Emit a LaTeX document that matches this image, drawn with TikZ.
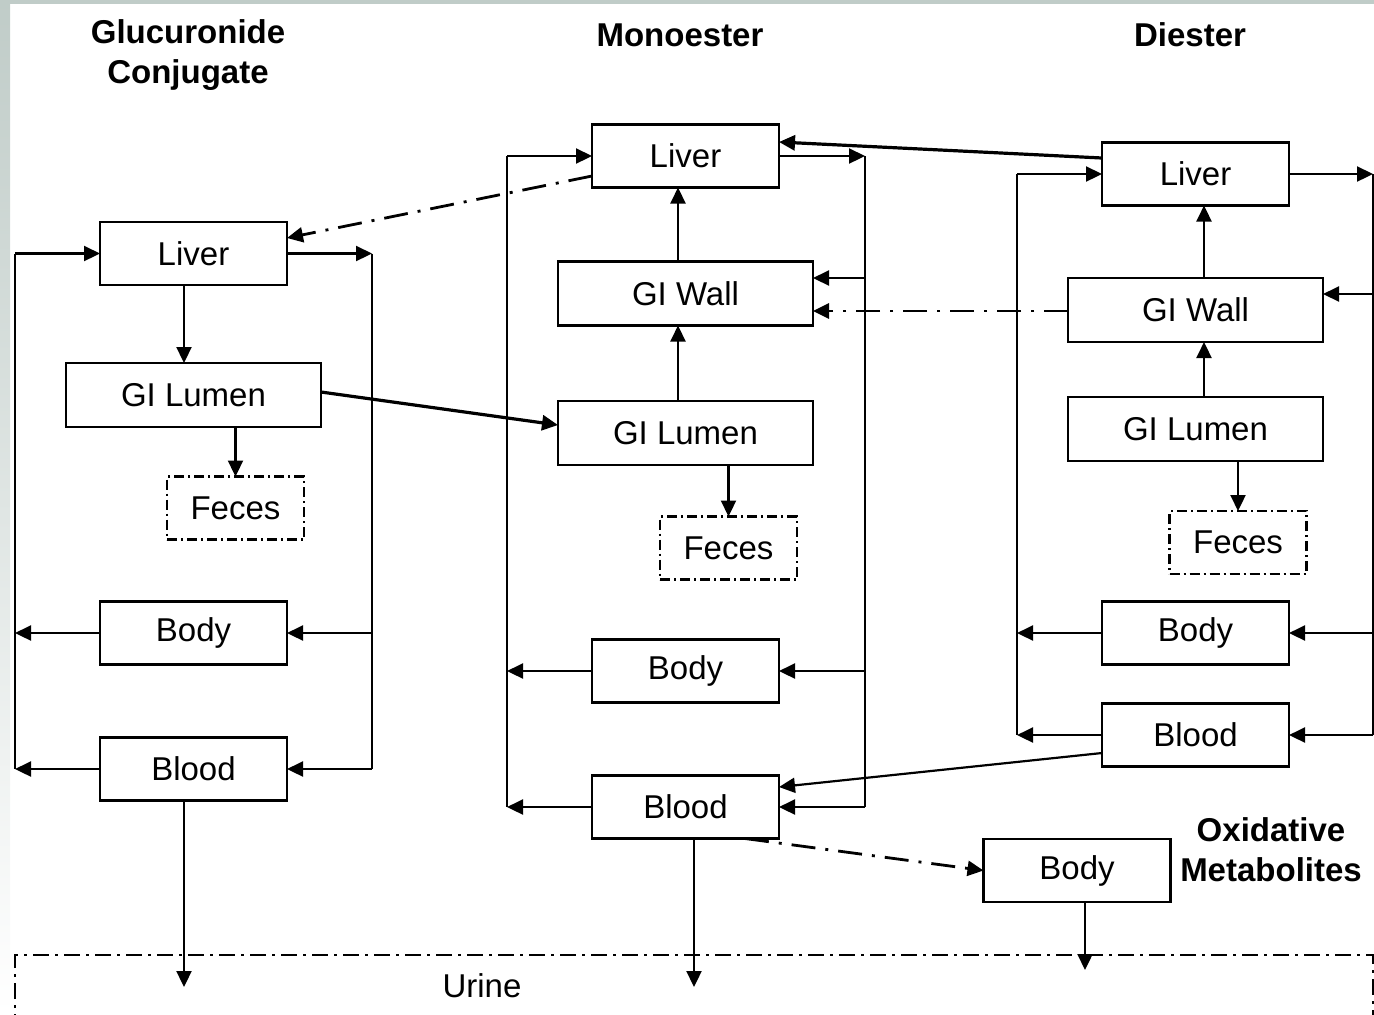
\documentclass[tikz,border=0pt]{standalone}
\usepackage{fontspec}
\setmainfont{Liberation Sans}
\usetikzlibrary{arrows.meta}
\definecolor{framegray}{RGB}{192,204,200}
\begin{document}
\begin{tikzpicture}[x=0.5pt,y=-0.5pt,
  boxfont/.style={font=\fontsize{16.5}{20}\selectfont},
  titlefont/.style={font=\fontsize{16.5}{20}\selectfont\bfseries, align=center},
  sbox/.style={draw, line width=1.1pt, boxfont, inner sep=0pt, outer sep=0pt, minimum width=93.5pt, minimum height=31.5pt},
  wbox/.style={sbox, minimum width=127.5pt, minimum height=32pt},
  fbox/.style={sbox, minimum width=68.5pt, dash pattern=on 5pt off 2pt on 1pt off 2pt},
  line/.style={line width=1.1pt},
  arr/.style={line width=1.1pt, -{Triangle[length=8pt,width=7.5pt]}},
  thickarr/.style={line width=1.6pt, -{Triangle[length=8pt,width=7.5pt]}},
  dd/.style={line width=1.4pt, dash pattern=on 12pt off 5pt on 1.5pt off 5pt},
  udd/.style={line width=0.8pt, dash pattern=on 8pt off 3pt on 1.5pt off 3pt}]
\useasboundingbox (0,0) rectangle (1374,1014);
% frame of the screenshot
\fill[framegray] (0,0) rectangle (1374,4);
\shade[top color=framegray, bottom color=white] (0,0) rectangle (10,1014);

% titles
\node[titlefont] (tG) at (188,55) {Glucuronide\\Conjugate};
\node[titlefont] (tM) at (680,35) {Monoester};
\node[titlefont] (tD) at (1190,35) {Diester};
\node[titlefont] (tO) at (1271,850) {Oxidative\\Metabolites};

% Glucuronide column
\node[sbox] (gL) at (193.5,253.5) {Liver};
\node[wbox] (gGL) at (193.5,395) {GI Lumen};
\node[fbox] (gF) at (235.5,508) {Feces};
\node[sbox] (gBo) at (193.5,633) {Body};
\node[sbox] (gB) at (193.5,769) {Blood};

% Monoester column
\node[sbox] (mL) at (685.5,156) {Liver};
\node[wbox] (mW) at (685.5,293.5) {GI Wall};
\node[wbox] (mGL) at (685.5,433) {GI Lumen};
\node[fbox] (mF) at (728.5,548) {Feces};
\node[sbox] (mBo) at (685.5,671) {Body};
\node[sbox] (mB) at (685.5,807) {Blood};

% Diester column
\node[sbox] (dL) at (1195.5,174) {Liver};
\node[wbox] (dW) at (1195.5,310) {GI Wall};
\node[wbox] (dGL) at (1195.5,429) {GI Lumen};
\node[fbox] (dF) at (1238,542.5) {Feces};
\node[sbox] (dBo) at (1195.5,633) {Body};
\node[sbox] (dB) at (1195.5,735) {Blood};

% Oxidative metabolites
\node[sbox] (oB) at (1077,870.5) {Body};

% Urine
\draw[udd] (15,1030) -- (15,955) -- (1373,955) -- (1373,1030);
\node[boxfont] (uT) at (482,986) {Urine};

% helper coordinates
\coordinate (gLx) at (15,0);
\coordinate (gRx) at (372,0);
\coordinate (gU) at (184,987);
\coordinate (mLx) at (507,0);
\coordinate (mRx) at (865,0);
\coordinate (mAx) at (678,0);
\coordinate (mU) at (694,987);
\coordinate (dLx) at (1017,0);
\coordinate (dRx) at (1373,0);
\coordinate (dAx) at (1204,0);
\coordinate (oU) at (1085,970);
\coordinate (y142) at (0,142);
\coordinate (y158) at (0,158);
\coordinate (y176) at (0,176);
\coordinate (y238) at (0,238);
\coordinate (y278) at (0,278);
\coordinate (y294) at (0,294);
\coordinate (y311) at (0,311);
\coordinate (y392) at (0,392);
\coordinate (y425) at (0,425);
\coordinate (y753) at (0,753);
\coordinate (y787) at (0,787);
\coordinate (mBx) at (745,0);

% Glucuronide connectors
\draw[line] (gL.west -| gLx) -- (gB.west -| gLx);
\draw[line] (gL.east -| gRx) -- (gB.east -| gRx);
\draw[arr] (gL.west -| gLx) -- (gL.west);
\draw[arr] (gL.east) -- (gL.east -| gRx);
\draw[arr] (gBo.west) -- (gBo.west -| gLx);
\draw[arr] (gBo.east -| gRx) -- (gBo.east);
\draw[arr] (gB.west) -- (gB.west -| gLx);
\draw[arr] (gB.east -| gRx) -- (gB.east);
\draw[arr] (gL.south -| gU) -- (gGL.north -| gU);
\draw[arr] (gGL.south -| gF.north) -- (gF.north);
\draw[arr] (gB.south -| gU) -- (gU);

% Monoester connectors
\draw[line] (mL.west -| mLx) -- (mB.west -| mLx);
\draw[line] (mL.east -| mRx) -- (mB.east -| mRx);
\draw[arr] (mL.west -| mLx) -- (mL.west);
\draw[arr] (mL.east) -- (mL.east -| mRx);
\draw[arr] (y278 -| mRx) -- (y278 -| mW.east);
\draw[arr] (mW.north -| mAx) -- (mL.south -| mAx);
\draw[arr] (mGL.north -| mAx) -- (mW.south -| mAx);
\draw[arr] (mGL.south -| mF.north) -- (mF.north);
\draw[arr] (mBo.west) -- (mBo.west -| mLx);
\draw[arr] (mBo.east -| mRx) -- (mBo.east);
\draw[arr] (mB.west) -- (mB.west -| mLx);
\draw[arr] (mB.east -| mRx) -- (mB.east);
\draw[arr] (mB.south -| mU) -- (mU);
\draw[arr, dd] (mB.south -| mBx) -- (oB.west);

% Diester connectors
\draw[line] (dL.west -| dLx) -- (dB.west -| dLx);
\draw[line] (dL.east -| dRx) -- (dB.east -| dRx);
\draw[arr] (dL.west -| dLx) -- (dL.west);
\draw[arr] (dL.east) -- (dL.east -| dRx);
\draw[arr] (y294 -| dRx) -- (y294 -| dW.east);
\draw[arr] (dW.north -| dAx) -- (dL.south -| dAx);
\draw[arr] (dGL.north -| dAx) -- (dW.south -| dAx);
\draw[arr] (dGL.south -| dF.north) -- (dF.north);
\draw[arr] (dBo.west) -- (dBo.west -| dLx);
\draw[arr] (dBo.east -| dRx) -- (dBo.east);
\draw[arr] (dB.west) -- (dB.west -| dLx);
\draw[arr] (dB.east -| dRx) -- (dB.east);

% cross-column connectors
\draw[thickarr] (dL.west |- y158) -- (mL.east |- y142);
\draw[arr, dd] (mL.west |- y176) -- (gL.east |- y238);
\draw[arr, dd] (dW.west |- y311) -- (mW.east |- y311);
\draw[thickarr] (gGL.east |- y392) -- (mGL.west |- y425);
\draw[arr] (dB.west |- y753) -- (mB.east |- y787);
\draw[arr] (oB.south -| oU) -- (oU);
\end{tikzpicture}
\end{document}
